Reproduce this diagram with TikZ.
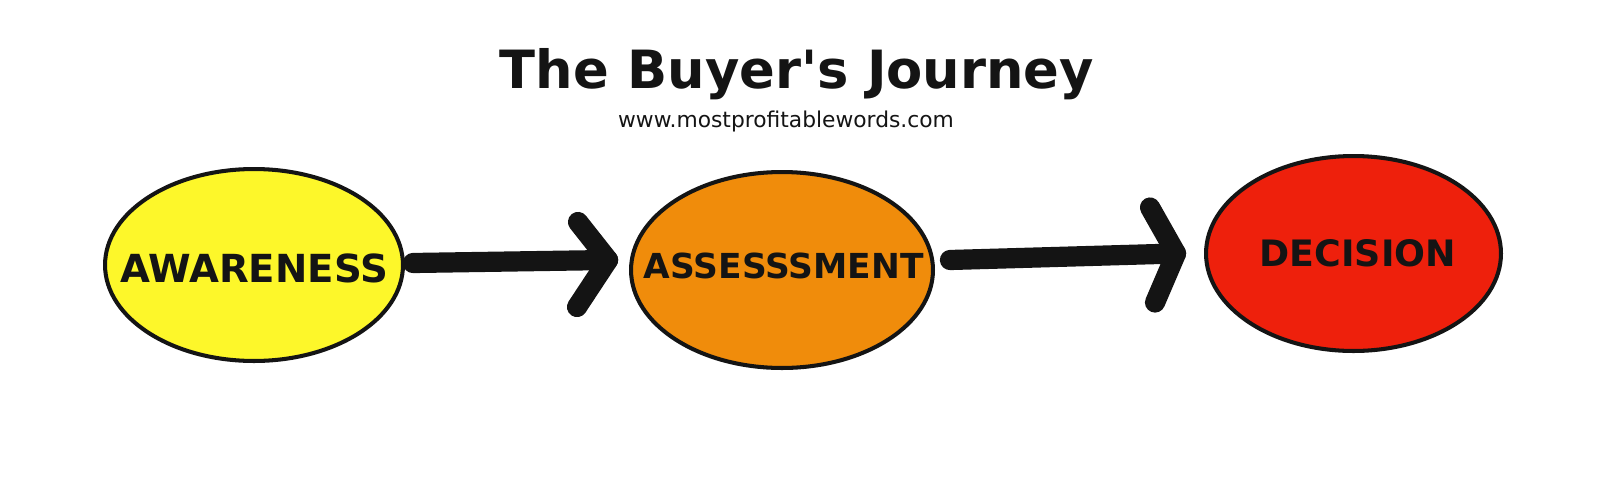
\documentclass[tikz,border=0pt]{standalone}
\usepackage{fontspec}
\setmainfont{DejaVu Sans}
\usetikzlibrary{shapes.geometric, calc}

\definecolor{awareyellow}{RGB}{253,247,42}
\definecolor{assessorange}{RGB}{240,140,11}
\definecolor{decisionred}{RGB}{238,32,12}
\definecolor{inkblack}{RGB}{20,20,20}

\tikzset{
	stage/.style={ellipse, draw=inkblack, line width=2.3pt, inner sep=0pt, outer sep=0pt},
	journey/.style={draw=inkblack, line width=11.5pt, line cap=round, line join=round}
}

\begin{document}
\begin{tikzpicture}[x=0.02cm, y=-0.02cm]
	\useasboundingbox (0,0) rectangle (1618,494);

	\node [anchor=base, text=inkblack, font=\fontsize{30}{36}\selectfont\bfseries] (title) at (797,88) {The Buyer\textquotesingle s Journey};
	\node [anchor=base, text=inkblack, font=\fontsize{12.4}{15}\selectfont] (site) at (786,127) {www.mostprofitablewords.com};

	% the three stages
	\node [stage, fill=awareyellow, minimum width=5.96cm, minimum height=3.84cm,
		label={[name=awaretext, text=inkblack, font=\fontsize{22}{24}\selectfont\bfseries, yshift=-2pt]center:AWARENESS}] (aware) at (254,265) {};
	\node [stage, fill=assessorange, minimum width=6.04cm, minimum height=3.92cm,
		label={[name=assesstext, text=inkblack, font=\fontsize{19.6}{22}\selectfont\bfseries, xshift=1pt, yshift=2.5pt]center:ASSESSSMENT}] (assess) at (782,270) {};
	\node [stage, fill=decisionred, minimum width=5.9cm, minimum height=3.9cm,
		label={[name=decidetext, text=inkblack, font=\fontsize{20.7}{23}\selectfont\bfseries, xshift=2.5pt]center:DECISION}] (decide) at (1353.5,253.5) {};

	\draw [journey] ($(aware.east)+(10,-2)$) -- ($(assess.west)+(-23,-10)$) coordinate (head1);
	\draw [journey] ($(head1)+(-30,-38)$) -- (head1) -- ++(-31,47);

	\draw [journey] ($(assess.east)+(17,-10)$) -- ($(decide.west)+(-30,0)$) coordinate (head2);
	\draw [journey] ($(head2)+(-26,-46)$) -- (head2) -- ++(-21,49);
\end{tikzpicture}
\end{document}
